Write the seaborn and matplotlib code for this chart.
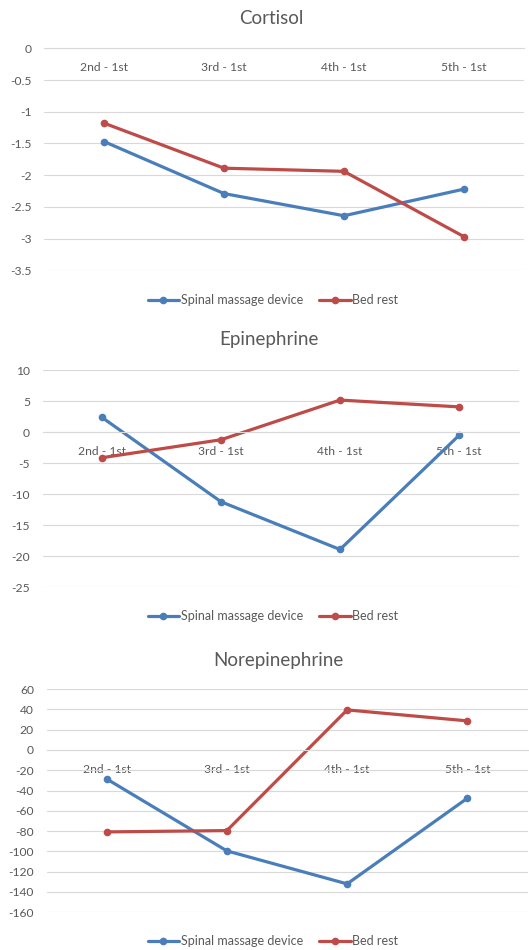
import matplotlib
matplotlib.use("Agg")
import matplotlib.pyplot as plt
import seaborn as sns
import pandas as pd

# Differences from the 1st measurement
categories = ["2nd - 1st", "3rd - 1st", "4th - 1st", "5th - 1st"]
series_names = ["Spinal massage device", "Bed rest"]

cortisol_spinal = [-1.47, -2.29, -2.64, -2.22]
cortisol_bed = [-1.18, -1.89, -1.94, -2.97]

epinephrine_spinal = [2.4, -11.2, -18.9, -0.5]
epinephrine_bed = [-4.1, -1.2, 5.2, 4.1]

norepinephrine_spinal = [-28.6, -99.5, -132.0, -47.6]
norepinephrine_bed = [-80.8, -79.5, 39.4, 28.6]

cortisol_ticks = [0, -0.5, -1, -1.5, -2, -2.5, -3, -3.5]
epinephrine_ticks = [10, 5, 0, -5, -10, -15, -20, -25]
norepinephrine_ticks = [60, 40, 20, 0, -20, -40, -60, -80, -100, -120, -140, -160]

BLUE = "#4A7EBB"
RED = "#BE4B48"
TEXT = "#595959"
GRID = "#D9D9D9"

sns.set_theme(style="white")
plt.rcParams["font.family"] = ["Lato", "DejaVu Sans"]

W, H = 529, 950
fig = plt.figure(figsize=(W / 100, H / 100), dpi=100)


def px_axes(left, top, right, bottom):
    return fig.add_axes([left / W, 1 - bottom / H, (right - left) / W, (bottom - top) / H])


panels = [
    dict(title="Cortisol", spinal=cortisol_spinal, bed=cortisol_bed, ticks=cortisol_ticks,
         box=(44, 48.3, 524, 270.3), title_xy=(271, 18), legend_y=300),
    dict(title="Epinephrine", spinal=epinephrine_spinal, bed=epinephrine_bed, ticks=epinephrine_ticks,
         box=(42.5, 370.3, 518.5, 587.3), title_xy=(269, 340), legend_y=616),
    dict(title="Norepinephrine", spinal=norepinephrine_spinal, bed=norepinephrine_bed,
         ticks=norepinephrine_ticks,
         box=(46.5, 689, 527.5, 912.3), title_xy=(278, 660.5), legend_y=941),
]

for p in panels:
    ax = px_axes(*p["box"])
    df = pd.DataFrame({
        "interval": categories * 2,
        "value": p["spinal"] + p["bed"],
        "group": [series_names[0]] * 4 + [series_names[1]] * 4,
    })
    sns.lineplot(data=df, x="interval", y="value", hue="group",
                 palette={series_names[0]: BLUE, series_names[1]: RED},
                 marker="o", markersize=5.5, markeredgewidth=0, linewidth=2.3,
                 sort=False, ax=ax, legend=True)

    ticks = p["ticks"]
    ax.set_ylim(min(ticks), max(ticks))
    ax.set_yticks(ticks)
    ax.set_yticklabels(["%g" % t for t in ticks])
    ax.set_xlim(-0.5, 3.5)
    ax.set_xlabel("")
    ax.set_ylabel("")
    ax.grid(axis="y", color=GRID, linewidth=0.8)
    ax.set_axisbelow(True)
    for side in ["top", "right", "left"]:
        ax.spines[side].set_visible(False)
    # category axis sits on the zero line
    ax.spines["bottom"].set_position(("data", 0))
    ax.spines["bottom"].set_color(GRID)
    ax.spines["bottom"].set_linewidth(0.8)
    ax.tick_params(axis="y", length=0, pad=9, labelsize=8.7, labelcolor=TEXT)
    ax.tick_params(axis="x", length=0, pad=10, labelsize=8.7, labelcolor=TEXT)
    ax.patch.set_alpha(0)

    fig.text(p["title_xy"][0] / W, 1 - p["title_xy"][1] / H, p["title"],
             ha="center", va="center", fontsize=13.5, color=TEXT)

    handles, labels = ax.get_legend_handles_labels()
    ax.get_legend().remove()
    fig.legend(handles, labels, loc="center", ncol=2, frameon=False,
               bbox_to_anchor=(273 / W, 1 - p["legend_y"] / H),
               fontsize=9, labelcolor=TEXT, handlelength=2.5, handletextpad=0.15,
               columnspacing=1.3, borderaxespad=0)

fig.savefig("out.png", dpi=100, facecolor="white")
